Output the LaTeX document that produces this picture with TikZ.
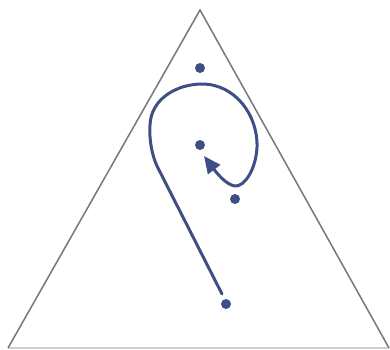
\documentclass[tikz,border=0pt]{standalone}
\usetikzlibrary{arrows.meta}
\definecolor{curveblue}{HTML}{3F4E86}
\definecolor{edgegray}{HTML}{777777}
\definecolor{basegray}{HTML}{D0D0D0}
\begin{document}
\begin{tikzpicture}[x=1pt,y=-1pt,
  dot/.style={circle,fill=curveblue,inner sep=0pt,minimum size=10pt},
  side/.style={draw=edgegray,line width=1.5pt},
  base/.style={draw=basegray,line width=1.5pt},
  trail/.style={draw=curveblue,line width=3pt,line cap=round,line join=round}]
\useasboundingbox (0,0) rectangle (390,349);
\coordinate (apex) at (200,10);
\coordinate (bl) at (8,348);
\coordinate (br) at (389,348);
\draw[base] (bl) -- (br);
\draw[side] (bl) -- (apex) -- (br);
\node[dot] (p1) at (200,68) {};
\node[dot] (p2) at (200,145) {};
\node[dot] (p3) at (235,199) {};
\node[dot] (p4) at (226,304) {};
\coordinate (s) at (222,294);
\draw[trail,-{Triangle[length=17pt,width=15pt]}] (s) -- (157,166)
  .. controls (152,155) and (149,140) .. (150,125)
  .. controls (151,98) and (178,84) .. (202,84)
  .. controls (235,84) and (258,115) .. (257,147)
  .. controls (256,170) and (244,187) .. (235,186)
  .. controls (226,185) and (216,172) .. (204,156);
\end{tikzpicture}
\end{document}
